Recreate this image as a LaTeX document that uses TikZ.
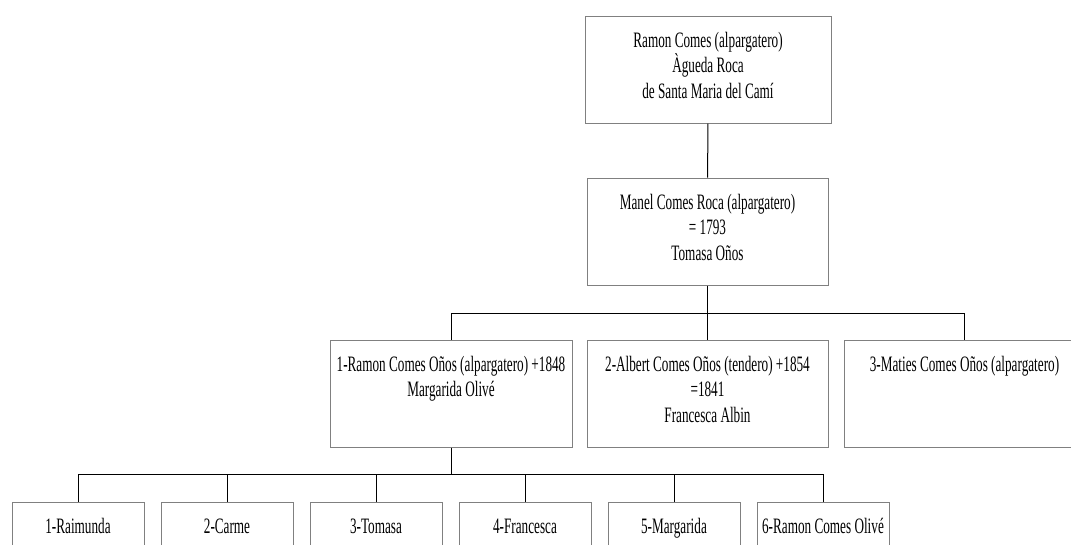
\documentclass[tikz,border=0pt]{standalone}
\usepackage{fontspec}
\setmainfont{Liberation Serif}[FakeStretch=0.6]
\definecolor{boxgray}{RGB}{128,128,128}
\newcommand{\caixa}[2]{\parbox[c][107pt][t]{#1}{\centering\rule{0pt}{31pt}#2}}

\begin{document}
\begin{tikzpicture}[x=1pt,y=-1pt,
    persona/.style={draw=boxgray,line width=1pt,inner sep=0pt,font=\fontsize{22}{25.5}\selectfont},
    lligam/.style={line width=1pt}]
    \clip (0,0) rectangle (1071,544);
    % avis i pares
    \node[persona] (avis) at (708,69.5) {\caixa{246pt}{Ramon Comes (alpargatero)\\ Àgueda Roca\\ de Santa Maria del Camí}};
    \node[persona] (manel) at (707.5,231.5) {\caixa{241pt}{Manel Comes Roca (alpargatero)\\ = 1793\\ Tomasa Oños}};
    \draw[lligam] (avis) -- (manel);
    % fills de Manel
    \node[persona] (ramon) at (451,393.5) {\caixa{242pt}{1-Ramon Comes Oños (alpargatero) +1848\\ Margarida Olivé}};
    \node[persona] (albert) at (707.5,393.5) {\caixa{241pt}{2-Albert Comes Oños (tendero) +1854\\ =1841\\ Francesca Albin}};
    \node[persona] (maties) at (964.5,393.5) {\caixa{241pt}{3-Maties Comes Oños (alpargatero)}};
    \coordinate (bus1) at (707.5,313);
    \draw[lligam] (manel) -- (bus1);
    \foreach \f in {ramon,albert,maties}
        \draw[lligam] (bus1) -| (\f.north);
    % fills de Ramon
    \foreach \n/\x/\nom in {1/78/1-Raimunda,2/227/2-Carme,3/376/3-Tomasa,4/525/4-Francesca,5/674/5-Margarida,6/823/6-Ramon Comes Olivé}
        \node[persona] (fill\n) at (\x,555.5) {\caixa{132pt}{\nom}};
    \coordinate (bus2) at (451,474);
    \draw[lligam] (ramon) -- (bus2);
    \foreach \n in {1,...,6}
        \draw[lligam] (bus2) -| (fill\n.north);
\end{tikzpicture}
\end{document}
